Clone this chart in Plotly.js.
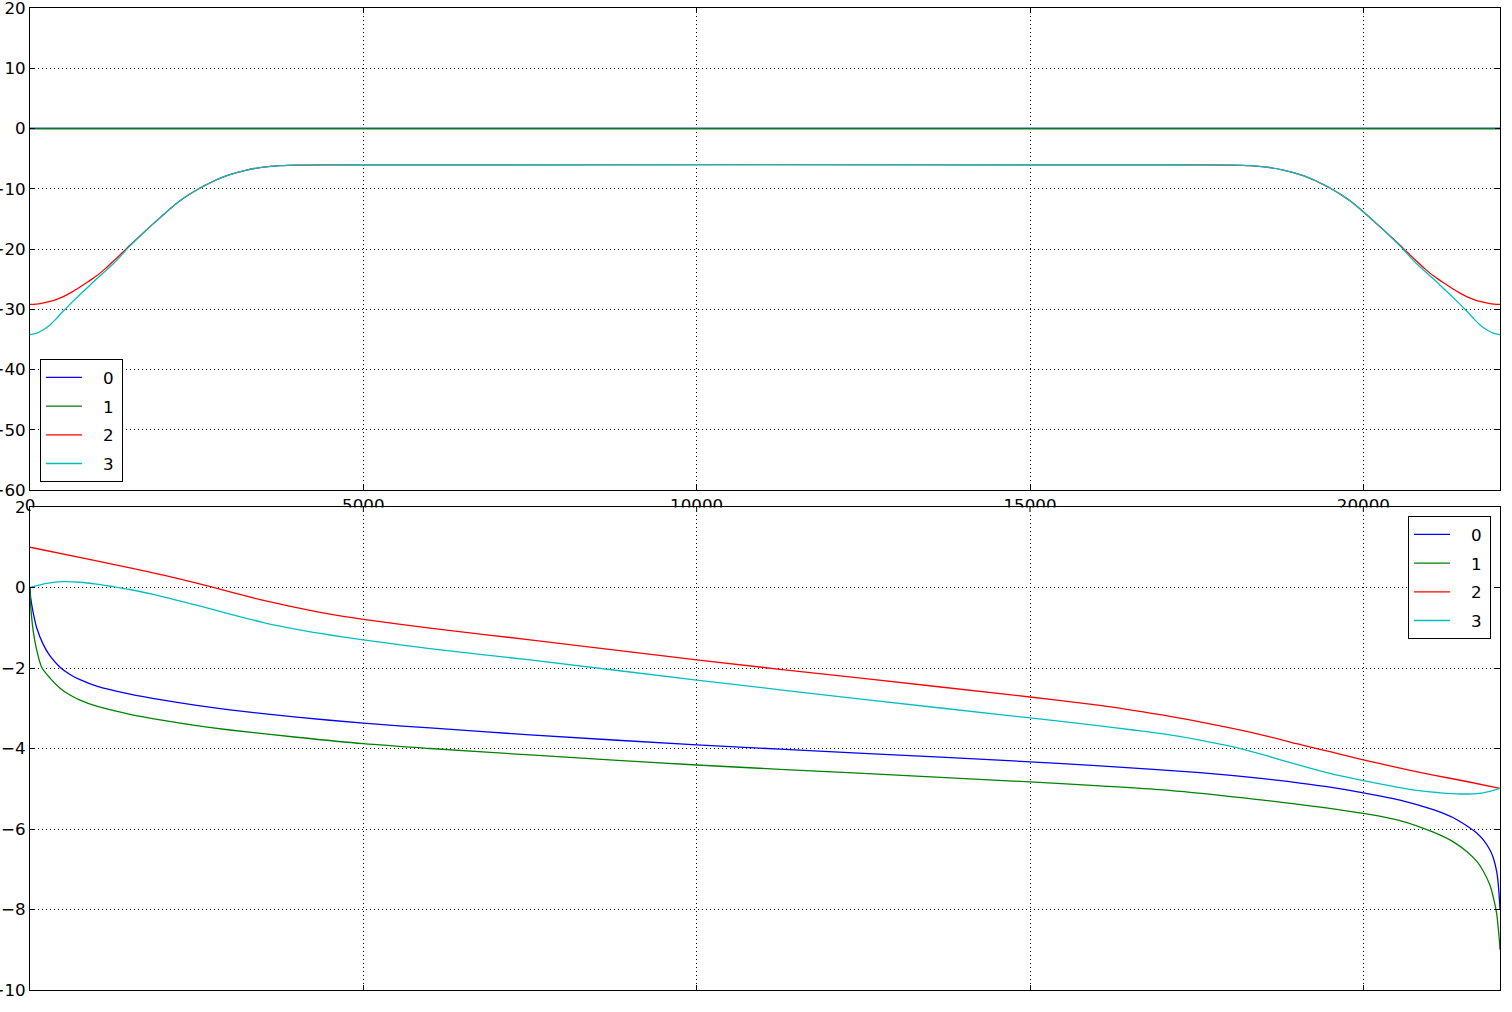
<!DOCTYPE html>
<html>
<head>
<meta charset="utf-8">
<script src="https://cdn.plot.ly/plotly-3.0.1.min.js"></script>
<style>html,body{margin:0;padding:0;background:#fff;}#chart{width:1512px;height:1012px;}</style>
</head>
<body>
<div id="chart"></div>
<script>
// ---------- Top panel: magnitude (dB) ----------
const magFlatFreq = [0, 22050];
const mag0 = [0, 0];
const mag1 = [0, 0];

const mag2Freq = [0, 150, 300, 400, 500, 625, 750, 875, 1000, 1125, 1250, 1350, 1450, 1600, 1750, 1900, 2000, 2125, 2250, 2375, 2500, 2625, 2750, 2875, 3000, 3250, 3500, 3750, 4000, 4500, 5000,
                  17050, 17550, 18050, 18300, 18550, 18800, 19050, 19175, 19300, 19425, 19550, 19675, 19800, 19925, 20050, 20150, 20300, 20450, 20600, 20700, 20800, 20925, 21050, 21175, 21300, 21425, 21550, 21650, 21750, 21900, 22050];
const mag2 = [-29.2, -29.05, -28.7, -28.35, -27.9, -27.15, -26.3, -25.4, -24.45, -23.3, -22.05, -21.0, -19.9, -18.35, -16.8, -15.3, -14.3, -13.1, -12.0, -11.05, -10.2, -9.45, -8.75, -8.15, -7.65, -6.9, -6.42, -6.17, -6.07, -6.03, -6.02,
              -6.02, -6.03, -6.07, -6.17, -6.42, -6.9, -7.65, -8.15, -8.75, -9.45, -10.2, -11.05, -12.0, -13.1, -14.3, -15.3, -16.8, -18.35, -19.9, -21.0, -22.05, -23.3, -24.45, -25.4, -26.3, -27.15, -27.9, -28.35, -28.7, -29.05, -29.2];

const mag3Freq = [0, 100, 200, 300, 400, 500, 625, 750, 875, 1000, 1125, 1250, 1350, 1450, 1600, 1750, 1900, 2000, 2125, 2250, 2375, 2500, 2625, 2750, 2875, 3000, 3250, 3500, 3750, 4000, 4500, 5000,
                  17050, 17550, 18050, 18300, 18550, 18800, 19050, 19175, 19300, 19425, 19550, 19675, 19800, 19925, 20050, 20150, 20300, 20450, 20600, 20700, 20800, 20925, 21050, 21175, 21300, 21425, 21550, 21650, 21750, 21850, 21950, 22050];
const mag3 = [-34.2, -33.95, -33.4, -32.6, -31.5, -30.3, -28.9, -27.55, -26.25, -24.95, -23.7, -22.45, -21.3, -20.05, -18.4, -16.8, -15.3, -14.3, -13.1, -12.0, -11.05, -10.2, -9.45, -8.75, -8.15, -7.65, -6.9, -6.42, -6.17, -6.07, -6.03, -6.02,
              -6.02, -6.03, -6.07, -6.17, -6.42, -6.9, -7.65, -8.15, -8.75, -9.45, -10.2, -11.05, -12.0, -13.1, -14.3, -15.3, -16.8, -18.4, -20.05, -21.3, -22.45, -23.7, -24.95, -26.25, -27.55, -28.9, -30.3, -31.5, -32.6, -33.4, -33.95, -34.2];

// ---------- Bottom panel: phase ----------
const ph0Freq = [0, 10, 25, 50, 100, 200, 300, 450, 600, 750, 1000, 1500, 2000, 2500, 3000, 4000, 5000, 6000, 7500, 10000, 12500, 15000,
                 16050, 17550, 18500, 19050, 19500, 20000, 20550, 21050, 21350, 21550, 21700, 21800, 21900, 21950, 22000, 22020, 22035, 22045, 22050];
const ph0 = [0, -0.25, -0.42, -0.64, -1.0, -1.42, -1.70, -1.98, -2.16, -2.29, -2.45, -2.65, -2.80, -2.93, -3.04, -3.22, -3.37, -3.49, -3.66, -3.91, -4.12, -4.33,
             -4.43, -4.60, -4.75, -4.86, -4.96, -5.10, -5.28, -5.52, -5.72, -5.92, -6.10, -6.27, -6.52, -6.72, -7.05, -7.3, -7.6, -7.85, -8.0];

const ph1Freq = [0, 10, 25, 50, 100, 175, 300, 450, 600, 750, 1000, 1500, 2000, 2500, 3000, 4000, 5000, 6000, 7500, 10000, 12500, 15000,
                 16050, 17000, 18050, 19000, 20000, 20550, 21050, 21350, 21550, 21700, 21800, 21900, 21950, 22000, 22020, 22040, 22050];
const ph1 = [0, -0.45, -0.75, -1.1, -1.55, -1.98, -2.25, -2.5, -2.67, -2.8, -2.95, -3.15, -3.30, -3.43, -3.54, -3.72, -3.88, -4.0, -4.16, -4.41, -4.62, -4.83,
             -4.93, -5.03, -5.20, -5.38, -5.61, -5.79, -6.08, -6.32, -6.56, -6.8, -7.05, -7.4, -7.7, -8.1, -8.4, -8.75, -9.0];

const ph2Freq = [0, 1000, 1500, 2000, 2500, 3000, 3500, 4000, 4500, 5000, 6000, 7500, 10000, 12500, 15000, 16050, 16500, 17000, 17550, 18000, 18550, 19000, 19500, 20000, 20500, 21050, 21550, 22050];
const ph2 = [1.0, 0.66, 0.49, 0.31, 0.11, -0.11, -0.32, -0.50, -0.66, -0.79, -1.01, -1.30, -1.80, -2.26, -2.72, -2.93, -3.04, -3.17, -3.34, -3.49, -3.69, -3.88, -4.08, -4.28, -4.47, -4.66, -4.82, -4.99];

const ph3Freq = [0, 250, 500, 750, 1000, 1250, 1500, 2000, 2500, 3000, 3500, 4000, 4500, 5000, 6000, 7500, 10000, 12500, 15000, 16050, 16550, 17050, 17550, 18050, 18550, 19050, 19500, 20000, 20500, 20800, 21150, 21450, 21800, 22050];
const ph3 = [0, 0.10, 0.145, 0.13, 0.085, 0.02, -0.05, -0.23, -0.44, -0.66, -0.87, -1.04, -1.18, -1.30, -1.52, -1.80, -2.30, -2.78, -3.24, -3.44, -3.54, -3.65, -3.79, -3.96, -4.18, -4.42, -4.62, -4.80, -4.96, -5.04, -5.10, -5.13, -5.10, -4.99];

const seriesNames = ['0', '1', '2', '3'];
const seriesColors = ['#0000ff', '#008000', '#ff0000', '#00bfbf'];
const xTicks = [0, 5000, 10000, 15000, 20000];
const magTicks = [-60, -50, -40, -30, -20, -10, 0, 10, 20];
const phaseTicks = [-10, -8, -6, -4, -2, 0, 2];

const topX = [magFlatFreq, magFlatFreq, mag2Freq, mag3Freq];
const topY = [mag0, mag1, mag2, mag3];
const botX = [ph0Freq, ph1Freq, ph2Freq, ph3Freq];
const botY = [ph0, ph1, ph2, ph3];

const NB = '\u00a0';
const legendLabel = s => NB + NB + NB + s + '\u2009';
const traces = [];
for (let i = 0; i < 4; i++) {
  traces.push({
    x: topX[i], y: topY[i], xaxis: 'x', yaxis: 'y', type: 'scatter', mode: 'lines',
    name: legendLabel(seriesNames[i]), legend: 'legend', legendgroup: 'top' + i,
    line: {color: seriesColors[i], width: 1.3, shape: 'spline', smoothing: 0.8}
  });
}
for (let i = 0; i < 4; i++) {
  traces.push({
    x: botX[i], y: botY[i], xaxis: 'x2', yaxis: 'y2', type: 'scatter', mode: 'lines',
    name: legendLabel(seriesNames[i]), legend: 'legend2', legendgroup: 'bot' + i,
    line: {color: seriesColors[i], width: 1.3, shape: 'spline', smoothing: 0.8}
  });
}

const axBase = {
  showline: true, linecolor: 'black', linewidth: 1, mirror: 'ticks',
  ticks: 'inside', ticklen: 5, tickwidth: 1, tickcolor: 'black',
  showgrid: true, gridcolor: '#000000', gridwidth: 1, griddash: '1px,3px',
  zeroline: false, ticklabeloverflow: 'allow',
  tickfont: {family: 'DejaVu Sans', size: 16.7, color: 'black'}
};

// page geometry (pixels) used to place the decorative cover over the clipped top-panel tick labels
const W = 1512, H = 1012, ML = 30, MR = 12, MT = 8, MB = 22;
const PW = W - ML - MR, PH = H - MT - MB;
const px2paperX = p => (p - ML) / PW;
const py2paperY = p => (H - MB - p) / PH;

const shapes = [
  {type: 'rect', xref: 'paper', yref: 'paper', layer: 'above',
   x0: px2paperX(30.6), x1: px2paperX(1499.4), y0: py2paperY(507.6), y1: py2paperY(515),
   fillcolor: 'white', line: {width: 0}}
];
xTicks.slice(1).forEach(t => {
  shapes.push({type: 'line', xref: 'x2', yref: 'paper', layer: 'above',
               x0: t, x1: t, y0: py2paperY(507), y1: py2paperY(512),
               line: {color: 'black', width: 1}});
});

const legendBase = {bordercolor: 'black', borderwidth: 1, bgcolor: 'white',
                    traceorder: 'grouped', tracegroupgap: 4, itemwidth: 36,
                    font: {family: 'DejaVu Sans', size: 16.7, color: 'black'}};

const layout = {
  width: W, height: H,
  margin: {l: ML, r: MR, t: MT, b: MB},
  paper_bgcolor: 'white', plot_bgcolor: 'white',
  font: {family: 'DejaVu Sans', size: 16.7, color: 'black'},
  showlegend: true,
  xaxis: Object.assign({}, axBase, {domain: [0, 1], anchor: 'y', range: [0, 22050], tickvals: xTicks, tickformat: 'd'}),
  yaxis: Object.assign({}, axBase, {domain: [py2paperY(490), 1], anchor: 'x', range: [-60, 20], tickvals: magTicks}),
  xaxis2: Object.assign({}, axBase, {domain: [0, 1], anchor: 'y2', range: [0, 22050], tickvals: xTicks, showticklabels: false}),
  yaxis2: Object.assign({}, axBase, {domain: [0, py2paperY(507)], anchor: 'x2', range: [-10, 2], tickvals: phaseTicks}),
  legend: Object.assign({}, legendBase, {x: px2paperX(40), xanchor: 'left', y: py2paperY(359), yanchor: 'top'}),
  legend2: Object.assign({}, legendBase, {x: px2paperX(1491), xanchor: 'right', y: py2paperY(516), yanchor: 'top'}),
  shapes: shapes
};

Plotly.newPlot('chart', traces, layout, {staticPlot: true, displayModeBar: false});
</script>
</body>
</html>
